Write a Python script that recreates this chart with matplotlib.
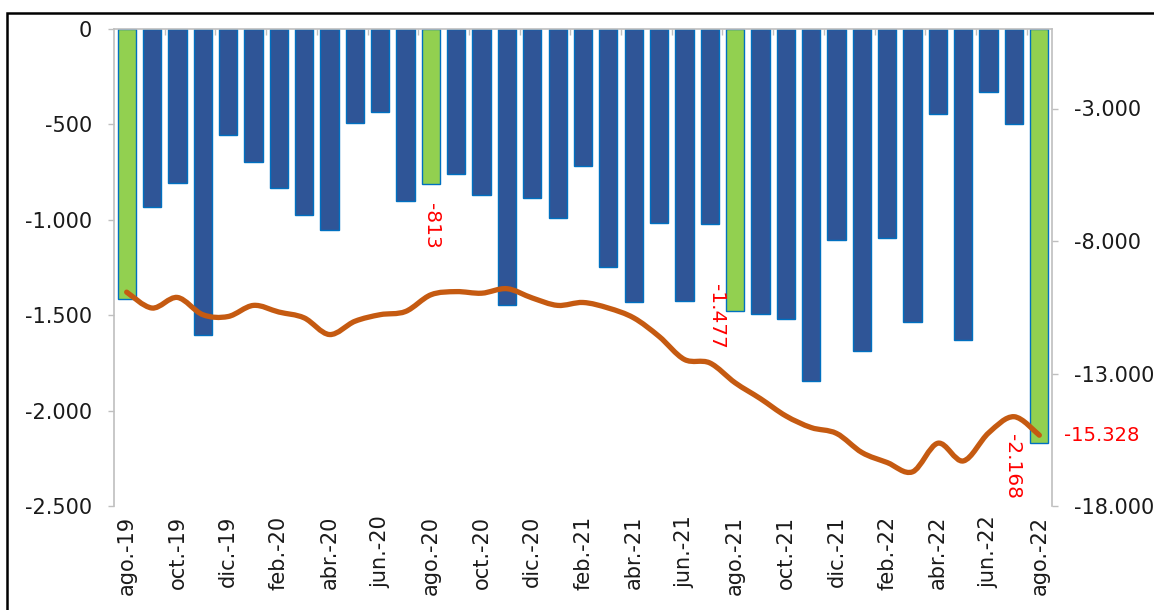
import matplotlib.pyplot as plt
import numpy as np
from matplotlib.path import Path
from matplotlib.patches import PathPatch, Rectangle

plt.rcParams["font.family"] = ["DejaVu Sans"]
plt.rcParams["axes.unicode_minus"] = False

months = [
    "ago.-19", "sep.-19", "oct.-19", "nov.-19", "dic.-19",
    "ene.-20", "feb.-20", "mar.-20", "abr.-20", "may.-20", "jun.-20",
    "jul.-20", "ago.-20", "sep.-20", "oct.-20", "nov.-20", "dic.-20",
    "ene.-21", "feb.-21", "mar.-21", "abr.-21", "may.-21", "jun.-21",
    "jul.-21", "ago.-21", "sep.-21", "oct.-21", "nov.-21", "dic.-21",
    "ene.-22", "feb.-22", "mar.-22", "abr.-22", "may.-22", "jun.-22",
    "jul.-22", "ago.-22",
]
# monthly balance (left axis)
monthly = [
    -1417, -931, -805, -1606, -556,
    -699, -835, -973, -1053, -493, -434,
    -900, -813, -758, -870, -1449, -884,
    -990, -720, -1245, -1431, -1016, -1428,
    -1021, -1477, -1494, -1518, -1843, -1107,
    -1688, -1097, -1536, -446, -1630, -331,
    -497, -2168,
]
# 12-month accumulated (right axis)
rolling = [
    -9930, -10530, -10130, -10780, -10850,
    -10430, -10680, -10900, -11530, -11030, -10780,
    -10660, -10030, -9910, -9970, -9800, -10150,
    -10430, -10320, -10530, -10900, -11600, -12470,
    -12600, -13350, -13950, -14600, -15040, -15260,
    -15980, -16360, -16710, -15630, -16300, -15240,
    -14630, -15328,
]
left_ticks = [0, -500, -1000, -1500, -2000, -2500]
right_ticks = [-3000, -8000, -13000, -18000]
labelled = [12, 24, 36]

BLUE = "#2F5597"
GREEN = "#92D050"
EDGE = "#0070C0"
ORANGE = "#C55A11"
GRAY = "#BFBFBF"
RED = "#FF0000"
TXT = "#1A1A1A"


def fmt(v):
    return f"{v:,.0f}".replace(",", ".")


def smooth_path(x, y):
    pts = np.column_stack([x, y]).astype(float)
    n = len(pts)
    verts = [pts[0]]
    codes = [Path.MOVETO]
    for i in range(n - 1):
        p0 = pts[max(i - 1, 0)]
        p1 = pts[i]
        p2 = pts[i + 1]
        p3 = pts[min(i + 2, n - 1)]
        verts += [p1 + (p2 - p0) / 6, p2 - (p3 - p1) / 6, p2]
        codes += [Path.CURVE4] * 3
    return Path(verts, codes)


def main():
    x = np.arange(len(months))
    colors = [GREEN if m.startswith("ago") else BLUE for m in months]

    fig = plt.figure(figsize=(11.54, 6.10), dpi=100)
    ax = fig.add_axes([114 / 1154, 1 - 506 / 610, (1052 - 114) / 1154, (506 - 29) / 610])
    ax.bar(x, monthly, width=0.72, color=colors, edgecolor=EDGE, linewidth=1.0, zorder=2)
    ax.set_xlim(-0.5, len(months) - 0.5)
    ax.set_ylim(-2500, 0)
    ax.set_yticks(left_ticks)
    ax.set_yticklabels([fmt(v) for v in left_ticks])
    ax.set_xticks(x[::2])
    ax.set_xticklabels(months[::2], rotation=90)
    ax.set_xticks(np.arange(1.5, len(months) - 1, 2), minor=True)
    ax.tick_params(axis="x", which="major", length=0, pad=7, labelsize=15, labelcolor=TXT)
    ax.tick_params(axis="x", which="minor", bottom=False, top=True, direction="in",
                   length=4, width=1, color=GRAY)
    ax.tick_params(axis="y", length=4, width=1, color=GRAY, pad=12, labelsize=15, labelcolor=TXT)
    for side in ["right", "bottom"]:
        ax.spines[side].set_visible(False)
    for side in ["left", "top"]:
        ax.spines[side].set_color(GRAY)
        ax.spines[side].set_linewidth(1.2)

    ax2 = ax.twinx()
    ax2.set_ylim(-18000, 0)
    ax2.set_yticks(right_ticks)
    ax2.set_yticklabels([fmt(v) for v in right_ticks])
    ax2.tick_params(axis="y", length=4, width=1, color=GRAY, pad=12, labelsize=15, labelcolor=TXT)
    for side in ["left", "top", "bottom"]:
        ax2.spines[side].set_visible(False)
    ax2.spines["right"].set_color(GRAY)
    ax2.spines["right"].set_linewidth(1.2)
    ax2.add_patch(PathPatch(smooth_path(x, rolling), facecolor="none", edgecolor=ORANGE,
                            lw=3.8, capstyle="round", joinstyle="round", zorder=3))

    # red data labels on the August bars
    offsets = {12: ((1, -19), "top"), 24: ((-19, -6), "center"), 36: ((-27, -24), "center")}
    for i in labelled:
        off, va = offsets[i]
        ax.annotate(fmt(monthly[i]), xy=(x[i], monthly[i]), xytext=off,
                    textcoords="offset pixels", rotation=270, ha="center", va=va,
                    color=RED, fontsize=14.5, zorder=5)
    ax2.annotate(fmt(rolling[-1]), xy=(x[-1], rolling[-1]), xytext=(25, 0),
                 textcoords="offset pixels", ha="left", va="center",
                 color=RED, fontsize=14, annotation_clip=False)

    # outer frame (top and left edges visible)
    fig.patches.append(Rectangle((7 / 1154, -0.1), 1.2, 1.1 - 13 / 610 + 0.0,
                                 transform=fig.transFigure, fill=False,
                                 edgecolor="black", linewidth=1.8))

    fig.savefig("out.png", dpi=100)


if __name__ == "__main__":
    main()
